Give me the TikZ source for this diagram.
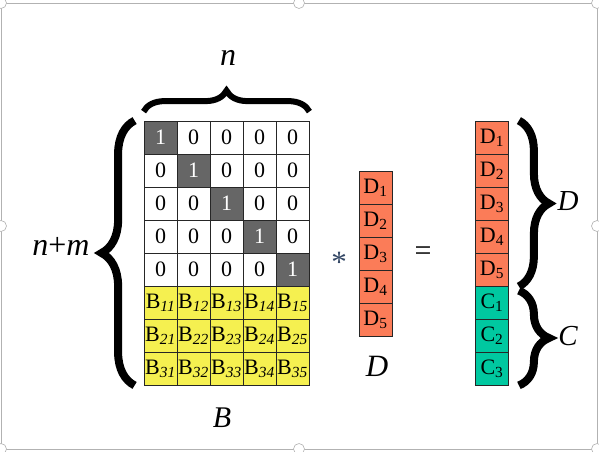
\documentclass[tikz,border=0pt]{standalone}
\usepackage{fontspec}
\setmainfont{Liberation Serif}
\usetikzlibrary{decorations.pathreplacing}

\definecolor{cellgray}{RGB}{102,102,102}
\definecolor{cellyellow}{RGB}{245,240,80}
\definecolor{cellorange}{RGB}{251,124,88}
\definecolor{cellteal}{RGB}{0,200,160}
\definecolor{stargray}{RGB}{50,70,100}

\begin{document}
\begin{tikzpicture}[x=1pt,y=-1pt,
    cell/.style={draw=black!85, line width=0.8pt, minimum size=33pt, inner sep=0pt,
                 font=\fontsize{22}{22}\selectfont},
    ident/.style={cell, fill=cellgray, text=white},
    bcell/.style={cell, fill=cellyellow},
    dcell/.style={cell, fill=cellorange},
    ccell/.style={cell, fill=cellteal},
    lbl/.style={font=\fontsize{32}{32}\selectfont\itshape},
    bigbrace/.style={decorate, decoration={brace, amplitude=#1}, line width=8pt},
    handle/.style={circle, draw=gray!60, fill=white, line width=0.6pt,
                   minimum size=11pt, inner sep=0pt}]

        \useasboundingbox (0,0) rectangle (599,451);
        \draw[gray!60, line width=0.8pt] (1,3) rectangle (597,449);

        % matrix B
        \node[ident] (m11) at (160.5,137.5) {1};
        \node[cell]  (m12) at (193.5,137.5) {0};
        \node[cell]  (m13) at (226.5,137.5) {0};
        \node[cell]  (m14) at (259.5,137.5) {0};
        \node[cell]  (m15) at (292.5,137.5) {0};

        \node[cell]  (m21) at (160.5,170.5) {0};
        \node[ident] (m22) at (193.5,170.5) {1};
        \node[cell]  (m23) at (226.5,170.5) {0};
        \node[cell]  (m24) at (259.5,170.5) {0};
        \node[cell]  (m25) at (292.5,170.5) {0};

        \node[cell]  (m31) at (160.5,203.5) {0};
        \node[cell]  (m32) at (193.5,203.5) {0};
        \node[ident] (m33) at (226.5,203.5) {1};
        \node[cell]  (m34) at (259.5,203.5) {0};
        \node[cell]  (m35) at (292.5,203.5) {0};

        \node[cell]  (m41) at (160.5,236.5) {0};
        \node[cell]  (m42) at (193.5,236.5) {0};
        \node[cell]  (m43) at (226.5,236.5) {0};
        \node[ident] (m44) at (259.5,236.5) {1};
        \node[cell]  (m45) at (292.5,236.5) {0};

        \node[cell]  (m51) at (160.5,269.5) {0};
        \node[cell]  (m52) at (193.5,269.5) {0};
        \node[cell]  (m53) at (226.5,269.5) {0};
        \node[cell]  (m54) at (259.5,269.5) {0};
        \node[ident] (m55) at (292.5,269.5) {1};

        \node[bcell] (m61) at (160.5,302.5) {B\textsubscript{\itshape 11}};
        \node[bcell] (m62) at (193.5,302.5) {B\textsubscript{\itshape 12}};
        \node[bcell] (m63) at (226.5,302.5) {B\textsubscript{\itshape 13}};
        \node[bcell] (m64) at (259.5,302.5) {B\textsubscript{\itshape 14}};
        \node[bcell] (m65) at (292.5,302.5) {B\textsubscript{\itshape 15}};

        \node[bcell] (m71) at (160.5,335.5) {B\textsubscript{\itshape 21}};
        \node[bcell] (m72) at (193.5,335.5) {B\textsubscript{\itshape 22}};
        \node[bcell] (m73) at (226.5,335.5) {B\textsubscript{\itshape 23}};
        \node[bcell] (m74) at (259.5,335.5) {B\textsubscript{\itshape 24}};
        \node[bcell] (m75) at (292.5,335.5) {B\textsubscript{\itshape 25}};

        \node[bcell] (m81) at (160.5,368.5) {B\textsubscript{\itshape 31}};
        \node[bcell] (m82) at (193.5,368.5) {B\textsubscript{\itshape 32}};
        \node[bcell] (m83) at (226.5,368.5) {B\textsubscript{\itshape 33}};
        \node[bcell] (m84) at (259.5,368.5) {B\textsubscript{\itshape 34}};
        \node[bcell] (m85) at (292.5,368.5) {B\textsubscript{\itshape 35}};

        % vector D
        \node[dcell] (d1) at (375.5,187.5) {D\textsubscript{1}};
        \node[dcell] (d2) at (375.5,220.5) {D\textsubscript{2}};
        \node[dcell] (d3) at (375.5,253.5) {D\textsubscript{3}};
        \node[dcell] (d4) at (375.5,286.5) {D\textsubscript{4}};
        \node[dcell] (d5) at (375.5,319.5) {D\textsubscript{5}};

        % result
        \node[dcell] (r1) at (492,137.5) {D\textsubscript{1}};
        \node[dcell] (r2) at (492,170.5) {D\textsubscript{2}};
        \node[dcell] (r3) at (492,203.5) {D\textsubscript{3}};
        \node[dcell] (r4) at (492,236.5) {D\textsubscript{4}};
        \node[dcell] (r5) at (492,269.5) {D\textsubscript{5}};
        \node[ccell] (r6) at (492,302.5) {C\textsubscript{1}};
        \node[ccell] (r7) at (492,335.5) {C\textsubscript{2}};
        \node[ccell] (r8) at (492,368.5) {C\textsubscript{3}};

        % operators and labels
        \node[text=stargray, font=\fontsize{31}{31}\selectfont] (star) at (339,262) {*};
        \node[font=\fontsize{30}{30}\selectfont] (eq) at (423,254) {=};

        \node[lbl] (ln) at (228,58) {n};
        \node[lbl] (lnm) at (61,246) {n\textup{+}m};
        \node[lbl, font=\fontsize{30}{30}\selectfont\itshape] (lb) at (222,418) {B};
        \node[lbl, font=\fontsize{31}{31}\selectfont\itshape] (ld) at (377,366) {D};
        \node[lbl, font=\fontsize{29}{29}\selectfont\itshape] (lrd) at (568,201) {D};
        \node[lbl, font=\fontsize{29}{29}\selectfont\itshape] (lrc) at (568,336) {C};

        % braces
        \draw[bigbrace=21, line width=6pt] ([yshift=9pt]m11.north west) -- ([yshift=9pt]m15.north east);
        \draw[bigbrace=33] ([xshift=-9pt]m81.south west) -- ([xshift=-9pt]m11.north west);
        \draw[bigbrace=30] ([xshift=10pt]r1.north east) -- ([xshift=10pt]r5.south east);
        \draw[bigbrace=30] ([xshift=10pt,yshift=-5pt]r6.north east) -- ([xshift=10pt]r8.south east);

        % frame handles
        \node[handle] (h1) at (1,3) {};
        \node[handle] (h2) at (299,3) {};
        \node[handle] (h3) at (597,3) {};
        \node[handle] (h4) at (1,226) {};
        \node[handle] (h5) at (597,226) {};
        \node[handle] (h6) at (1,449) {};
        \node[handle] (h7) at (299,449) {};
        \node[handle] (h8) at (597,449) {};

    \end{tikzpicture}
\end{document}
